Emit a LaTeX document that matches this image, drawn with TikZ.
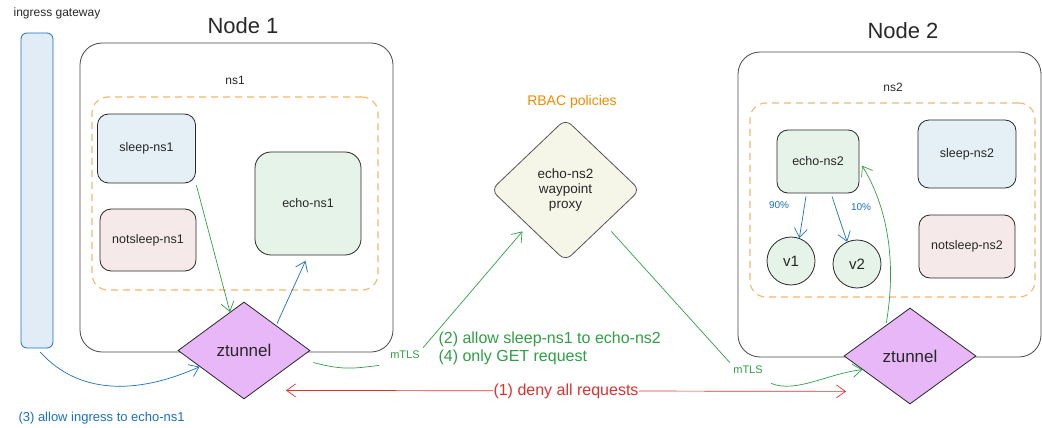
\documentclass[tikz,border=0pt]{standalone}
\usepackage{fontspec}
\setmainfont{Liberation Sans}
\usetikzlibrary{shapes.geometric,arrows.meta,calc}
\definecolor{cgreen}{RGB}{47,158,68}
\definecolor{cblue}{RGB}{25,113,194}
\definecolor{cred}{RGB}{224,49,49}
\definecolor{corange}{RGB}{240,140,0}
\definecolor{cdark}{RGB}{40,40,40}
\definecolor{fpurple}{RGB}{232,183,247}
\definecolor{fblue}{RGB}{228,240,246}
\definecolor{fpink}{RGB}{246,233,233}
\definecolor{fgreen}{RGB}{229,243,233}
\definecolor{fwp}{RGB}{245,245,232}
\definecolor{fbar}{RGB}{226,236,247}
\tikzset{
  fs/.style={font=\fontsize{#1}{1.2\dimexpr #1pt\relax}\selectfont},
  outer/.style={draw=cdark!85, line width=0.8pt, rounded corners=22pt, inner sep=0pt},
  nsbox/.style={draw=corange!80!brown!60!white, line width=1.1pt, dash pattern=on 7pt off 5pt, rounded corners=16pt, inner sep=0pt},
  podbox/.style={draw=cdark, line width=0.8pt, rounded corners=11pt, inner sep=0pt, text=cdark, fs=12.5},
  ztun/.style={diamond, aspect=1.36, draw=cdark, line width=0.8pt, fill=fpurple, inner sep=0pt, text=cdark, fs=17},
  vcirc/.style={circle, draw=cdark, line width=0.8pt, fill=fgreen, minimum size=48pt, inner sep=0pt, text=cdark, fs=15},
  garrow/.style={draw=cgreen, line width=0.7pt, -{Straight Barb[length=9pt,width=13pt]}},
  gline/.style={draw=cgreen, line width=0.7pt},
  barrow/.style={draw=cblue, line width=0.7pt, -{Straight Barb[length=9pt,width=13pt]}},
}
\begin{document}
\begin{tikzpicture}[x=1pt,y=-1pt]
\useasboundingbox (0,0) rectangle (1042,428);
% titles
\node[fs=12, text=cdark] (ingtitle) at (57,13) {ingress gateway};
\node[fs=22, text=cdark] (n1title) at (243,26) {Node 1};
\node[fs=22, text=cdark] (n2title) at (903,31) {Node 2};
% ingress bar
\node[draw=cblue, line width=0.8pt, fill=fbar, rounded corners=6pt, minimum width=32pt, minimum height=315pt, inner sep=0pt] (bar) at (37,190.5) {};
% node 1
\node[outer, minimum width=313pt, minimum height=309pt] (node1) at (236.5,197.5) {};
\node[fs=12, text=cdark] (ns1lbl) at (235,80) {ns1};
\node[nsbox, minimum width=286pt, minimum height=193pt] (ns1) at (235,193.5) {};
\node[podbox, fill=fblue, minimum width=98pt, minimum height=69pt] (sleep1) at (146.5,148.5) {sleep-ns1};
\node[podbox, fill=fpink, minimum width=96pt, minimum height=62pt] (notsleep1) at (148,240) {notsleep-ns1};
\node[podbox, fill=fgreen, minimum width=106pt, minimum height=103pt, rounded corners=16pt] (echo1) at (308,203.5) {echo-ns1};
\node[ztun, minimum width=132pt, minimum height=97pt] (zt1) at (244,350.5) {ztunnel};
% node 2
\node[outer, minimum width=303pt, minimum height=305pt] (node2) at (889.5,204.5) {};
\node[fs=12, text=cdark] (ns2lbl) at (893,87) {ns2};
\node[nsbox, minimum width=285pt, minimum height=194pt] (ns2) at (892.5,200) {};
\node[podbox, fill=fgreen, minimum width=82pt, minimum height=63pt] (echo2) at (818,161.5) {echo-ns2};
\node[podbox, fill=fblue, minimum width=98pt, minimum height=68pt] (sleep2) at (967,154) {sleep-ns2};
\node[podbox, fill=fpink, minimum width=96pt, minimum height=63pt] (notsleep2) at (967,246.5) {notsleep-ns2};
\node[vcirc] (v1) at (791,261) {v1};
\node[vcirc] (v2) at (857,264) {v2};
\node[ztun, minimum width=132pt, minimum height=96pt] (zt2) at (910,356) {ztunnel};
% waypoint
\node[fs=14, text=corange] (rbac) at (572,102) {RBAC policies};
\node[diamond, draw=cdark!80, line width=0.8pt, fill=fwp, rounded corners=8pt, minimum width=149pt, minimum height=142pt, inner sep=0pt] (wp) at (565.5,190) {};
\node[fs=13.5, text=cdark, align=center] (wptext) at (565.5,190) {echo-ns2\\[-1pt]waypoint\\[-1pt]proxy};
% node 1 arrows
\draw[garrow, shorten <=2pt] (sleep1.south east) -- (zt1.110);
\draw[barrow, shorten >=6pt, shorten <=2pt] (zt1.38) -- (echo1.south);
\draw[barrow, shorten <=5pt] (bar.south) .. controls +(45,50) and +(-55,25) .. (zt1.200);
\node[fs=13, text=cblue, anchor=west] (ing3) at (15,418) {(3) allow ingress to echo-ns1};
% mTLS paths
\node[fs=11, text=cgreen] (mtls1) at (405,355) {mTLS};
\node[fs=11, text=cgreen] (mtls2) at (748,370) {mTLS};
\draw[gline] ($(zt1.east)+(3,12)$) .. controls +(30,8) and +(-25,3) .. ($(mtls1.south west)+(-8,3)$);
\draw[garrow, shorten >=8pt] (mtls1.north east) -- (wp.223.5);
\draw[gline, shorten <=10pt] (wp.-41.5) -- (mtls2.north west);
\draw[garrow] ($(mtls2.south east)+(5,6)$) .. controls +(25,10) and +(-35,4) .. (zt2.196);
\node[fs=16, text=cgreen, anchor=west, align=left] (policy24) at (435,348) {(2) allow sleep-ns1 to echo-ns2\\[-1pt](4) only GET request};
% red deny
\draw[draw=cred, line width=0.7pt, {Straight Barb[length=9pt,width=13pt]}-{Straight Barb[length=9pt,width=13pt]}] ($(zt1.south)+(42,-9)$) -- ($(zt2.south)+(-64,-13)$) node[midway, fill=white, inner sep=1pt, fs=16, text=cred] (deny) {(1) deny all requests};
% node 2 arrows
\draw[barrow] ($(echo2.south)+(-12,3)$) -- (v1.70);
\draw[barrow] ($(echo2.south)+(14,3)$) -- (v2.114);
\node[fs=10, text=cblue] (p90) at (779,205) {90\%};
\node[fs=10, text=cblue] (p10) at (861,207) {10\%};
\draw[garrow, shorten <=2pt, shorten >=5pt] (zt2.128) .. controls +(12,-70) and +(25,40) .. (echo2.east);
\end{tikzpicture}
\end{document}
